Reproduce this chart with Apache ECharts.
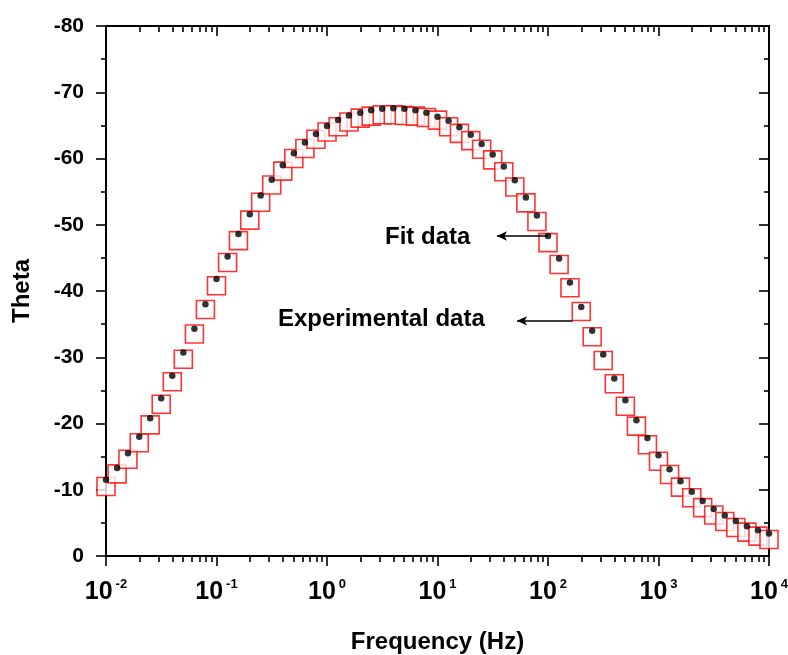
<!DOCTYPE html>
<html>
<head>
<meta charset="utf-8">
<script src="https://cdn.jsdelivr.net/npm/echarts@6/dist/echarts.min.js"></script>
<style>
html,body{margin:0;padding:0;background:#fff;}
#chart{width:788px;height:655px;}
</style>
</head>
<body>
<div id="chart"></div>
<script>
// Frequency (Hz), 10 points per decade
const freq = [0.01,0.0126,0.0158,0.02,0.0251,0.0316,0.0398,0.0501,0.0631,0.0794,
  0.1,0.126,0.158,0.2,0.251,0.316,0.398,0.501,0.631,0.794,
  1,1.26,1.58,2,2.51,3.16,3.98,5.01,6.31,7.94,
  10,12.6,15.8,20,25.1,31.6,39.8,50.1,63.1,79.4,
  100,126,158,200,251,316,398,501,631,794,
  1000,1260,1580,2000,2510,3160,3980,5010,6310,7940,10000];

// Fit data (black dots), Theta
const fitTheta = [-11.5,-13.3,-15.5,-18.0,-20.8,-23.8,-27.2,-30.7,-34.3,-38.0,
  -41.8,-45.2,-48.6,-51.6,-54.4,-56.8,-59.0,-60.8,-62.4,-63.7,
  -64.9,-65.8,-66.5,-66.9,-67.3,-67.5,-67.6,-67.5,-67.3,-66.9,
  -66.3,-65.7,-64.7,-63.6,-62.2,-60.6,-58.8,-56.7,-54.1,-51.4,
  -48.3,-44.9,-41.3,-37.6,-34.0,-30.4,-26.8,-23.5,-20.5,-17.8,
  -15.2,-13.1,-11.3,-9.7,-8.3,-7.1,-6.1,-5.3,-4.5,-3.9,-3.4];

// Experimental data (red open squares), Theta
const expTheta = [-10.5,-12.4,-14.6,-17.1,-19.8,-22.9,-26.3,-29.7,-33.5,-37.2,
  -40.8,-44.3,-47.6,-50.7,-53.4,-56.0,-58.1,-60.0,-61.5,-62.9,
  -64.0,-64.8,-65.5,-66.1,-66.4,-66.6,-66.6,-66.5,-66.4,-66.2,
  -65.8,-64.8,-63.8,-62.7,-61.4,-59.8,-58.0,-55.7,-53.3,-50.5,
  -47.3,-44.0,-40.5,-36.9,-33.1,-29.5,-26.0,-22.6,-19.6,-16.8,
  -14.3,-12.3,-10.4,-8.8,-7.3,-6.2,-5.2,-4.3,-3.6,-3.0,-2.5];

const yTicks = [-80,-70,-60,-50,-40,-30,-20,-10,0];
const xDecades = [0.01,0.1,1,10,100,1000,10000];

const fitPts = freq.map((f,i)=>[f, fitTheta[i]]);
const expPts = freq.map((f,i)=>[f, expTheta[i]]);

// minor tick positions on log scale (in log10 units)
const minorLog = [];
for (let d = -2; d < 4; d++) for (let k = 2; k <= 9; k++) minorLog.push(Math.log10(k) + d);

const SANS = "'Liberation Sans',Arial,sans-serif";

const chart = echarts.init(document.getElementById('chart'), null, {renderer:'canvas'});
const lineStyle = {color:'#000', width:2};

chart.setOption({
  animation:false,
  backgroundColor:'#fff',
  grid:{left:106, right:19, top:26, bottom:99, containLabel:false, outerBoundsMode:'none'},
  xAxis:[
    {type:'log', logBase:10, min:0.01, max:10000, position:'bottom',
     axisLine:{show:true, onZero:false, lineStyle:lineStyle},
     axisTick:{show:true, length:10, lineStyle:{color:'#000', width:1.6}, customValues: xDecades},
     splitLine:{show:false},
     name:'Frequency (Hz)', nameLocation:'middle', nameGap:74,
     nameTextStyle:{fontFamily:SANS, fontWeight:'bold', fontSize:24, color:'#000'},
     axisLabel:{margin:22, customValues: xDecades,
       formatter:function(v){ const e = Math.round(Math.log10(v)); return '{b|10}{s|' + e + '}'; },
       rich:{
         b:{fontFamily:SANS, fontWeight:'bold', fontSize:25, color:'#000', lineHeight:28},
         s:{fontFamily:SANS, fontWeight:'bold', fontSize:13, color:'#000', verticalAlign:'top', lineHeight:22, padding:[0,0,0,3]}
       }}
    },
    {type:'log', logBase:10, min:0.01, max:10000, position:'top',
     axisLine:{show:true, onZero:false, lineStyle:lineStyle},
     axisTick:{show:true, inside:true, length:10, lineStyle:{color:'#000', width:1.6}, customValues: xDecades},
     axisLabel:{show:false}, splitLine:{show:false}
    },
    {type:'value', min:-2, max:4, position:'bottom',
     axisLine:{show:false, onZero:false},
     axisTick:{show:true, length:6, lineStyle:{color:'#000', width:1.6}, customValues: minorLog},
     axisLabel:{show:false}, splitLine:{show:false}
    },
    {type:'value', min:-2, max:4, position:'top',
     axisLine:{show:false, onZero:false},
     axisTick:{show:true, inside:true, length:6, lineStyle:{color:'#000', width:1.6}, customValues: minorLog},
     axisLabel:{show:false}, splitLine:{show:false}
    }
  ],
  yAxis:[
    {type:'value', min:-80, max:0, interval:10, inverse:true, position:'left',
     axisLine:{show:true, onZero:false, lineStyle:lineStyle},
     axisTick:{show:true, length:10, lineStyle:{color:'#000', width:1.6}},
     minorTick:{show:true, splitNumber:2, length:5, lineStyle:{color:'#000', width:1.6}},
     splitLine:{show:false},
     axisLabel:{margin:22, fontFamily:SANS, fontWeight:'bold', fontSize:21, color:'#000'},
     name:'Theta', nameLocation:'middle', nameGap:72, nameRotate:90,
     nameTextStyle:{fontFamily:SANS, fontWeight:'bold', fontSize:24, color:'#000'}
    },
    {type:'value', min:-80, max:0, interval:10, inverse:true, position:'right',
     axisLine:{show:true, onZero:false, lineStyle:lineStyle},
     axisTick:{show:true, inside:true, length:10, lineStyle:{color:'#000', width:1.6}},
     minorTick:{show:true, splitNumber:2, length:5, lineStyle:{color:'#000', width:1.6}},
     splitLine:{show:false}, axisLabel:{show:false}
    }
  ],
  series:[
    {name:'Experimental data', type:'scatter', xAxisIndex:0, yAxisIndex:0,
     data:expPts, symbol:'rect', symbolSize:18,
     itemStyle:{color:'#fff', borderColor:'#ff0000', borderWidth:1.6}, z:2,
     markLine:{silent:true, symbol:['none','arrow'], symbolSize:[7,10],
       lineStyle:{color:'#000', width:1.5, type:'solid'}, label:{show:false},
       data:[[{coord:[167, -35.5]}, {coord:[52.5, -35.5]}]]}
    },
    {name:'Fit data', type:'scatter', xAxisIndex:0, yAxisIndex:0,
     data:fitPts, symbol:'circle', symbolSize:6.5,
     itemStyle:{color:'#000'}, z:3,
     markLine:{silent:true, symbol:['none','arrow'], symbolSize:[7,10],
       lineStyle:{color:'#000', width:1.5, type:'solid'}, label:{show:false},
       data:[[{coord:[freq[40], fitTheta[40]]}, {coord:[34.5, fitTheta[40]]}]]}
    }
  ],
  graphic:[
    {type:'text', left:385, top:225, style:{text:'Fit data', fontFamily:SANS, fontWeight:'bold', fontSize:24, fill:'#000'}},
    {type:'text', left:278, top:307, style:{text:'Experimental data', fontFamily:SANS, fontWeight:'bold', fontSize:24, fill:'#000'}}
  ]
});
</script>
</body>
</html>
